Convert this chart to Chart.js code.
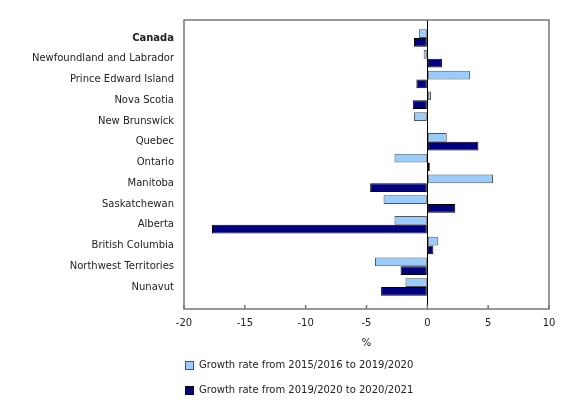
<!DOCTYPE html>
<html>
<head>
<meta charset="utf-8">
<script src="https://cdn.jsdelivr.net/npm/chart.js@4"></script>
<style>
  body { margin: 0; background: #fff; }
  #wrap { width: 580px; height: 400px; position: relative; }
</style>
</head>
<body>
<div id="wrap"><canvas id="myChart"></canvas></div>
<script>
const provinces = ['Canada', 'Newfoundland and Labrador', 'Prince Edward Island', 'Nova Scotia',
    'New Brunswick', 'Quebec', 'Ontario', 'Manitoba', 'Saskatchewan', 'Alberta',
    'British Columbia', 'Northwest Territories', 'Nunavut'];
const growth2016to2020 = [-0.7, -0.3, 3.5, 0.3, -1.1, 1.6, -2.7, 5.4, -3.6, -2.7, 0.9, -4.3, -1.8];
const growth2020to2021 = [-1.1, 1.2, -0.9, -1.2, 0.0, 4.2, 0.2, -4.7, 2.3, -17.7, 0.5, -2.2, -3.8];
const xTicks = [-20, -15, -10, -5, 0, 5, 10];

const frameColor = '#777';
const textColor = '#222';

Chart.defaults.font.family = 'DejaVu Sans';
Chart.defaults.font.size = 10;
Chart.defaults.color = textColor;

// frame round the plot, inward ticks on the x axis and the legend underneath
const framePlugin = {
    id: 'frame',
    afterDraw(chart) {
        const c = chart.ctx, a = chart.chartArea, xs = chart.scales.x;
        c.save();
        c.strokeStyle = frameColor;
        c.lineWidth = 1.5;
        c.strokeRect(a.left, a.top, a.right - a.left, a.bottom - a.top);
        c.beginPath();
        xTicks.forEach(t => {
            const px = xs.getPixelForValue(t);
            c.moveTo(px, a.bottom - 4);
            c.lineTo(px, a.bottom);
        });
        c.stroke();

        c.font = '10px "DejaVu Sans"';
        c.textBaseline = 'middle';
        chart.data.datasets.forEach((ds, i) => {
            const y = 365 + i * 25;
            c.fillStyle = ds.backgroundColor;
            c.fillRect(a.left + 1, y - 4, 8, 8);
            c.strokeStyle = ds.borderColor;
            c.lineWidth = 1;
            c.strokeRect(a.left + 1.5, y - 3.5, 8, 8);
            c.fillStyle = textColor;
            c.fillText(ds.label, a.left + 15, y);
        });
        c.restore();
    }
};

const ctx = document.getElementById('myChart');
const myChart = new Chart(ctx, {
    type: 'bar',
    data: {
        datasets: [{
            label: 'Growth rate from 2015/2016 to 2019/2020',
            data: growth2016to2020.map((v, i) => ({ x: v, y: i })),
            backgroundColor: '#99ccff',
            borderColor: '#555',
            borderWidth: 1,
            borderSkipped: false
        }, {
            label: 'Growth rate from 2019/2020 to 2020/2021',
            data: growth2020to2021.map((v, i) => ({ x: v, y: i })),
            backgroundColor: '#000080',
            borderColor: '#000',
            borderWidth: 1,
            borderSkipped: false
        }]
    },
    options: {
        indexAxis: 'y',
        responsive: true,
        maintainAspectRatio: false,
        animation: false,
        categoryPercentage: 0.84,
        barPercentage: 1.0,
        layout: { padding: { top: 20, right: 31, left: 0, bottom: 0 } },
        plugins: {
            legend: { display: false },
            tooltip: { enabled: false }
        },
        scales: {
            x: {
                type: 'linear',
                min: -20,
                max: 10,
                afterBuildTicks: s => { s.ticks = xTicks.map(v => ({ value: v })); },
                afterFit: s => { s.height = 91; },
                ticks: { padding: 8, color: textColor },
                grid: {
                    drawTicks: false,
                    color: c => (c.tick && c.tick.value === 0) ? '#000' : 'rgba(0,0,0,0)',
                    lineWidth: 1
                },
                border: { display: false },
                title: { display: true, text: '%', color: textColor, padding: { top: 0, bottom: 51 } }
            },
            y: {
                type: 'linear',
                reverse: true,
                offset: false,
                min: -0.87,
                max: 13.06,
                afterBuildTicks: s => { s.ticks = provinces.map((p, i) => ({ value: i })); },
                afterFit: s => { s.width = 184; },
                ticks: {
                    autoSkip: false,
                    padding: 2,
                    color: textColor,
                    callback: v => provinces[v],
                    font: c => ({ weight: c.index === 0 ? 'bold' : 'normal' })
                },
                grid: { display: false, offset: false },
                border: { display: false }
            }
        }
    },
    plugins: [framePlugin]
});
</script>
</body>
</html>
